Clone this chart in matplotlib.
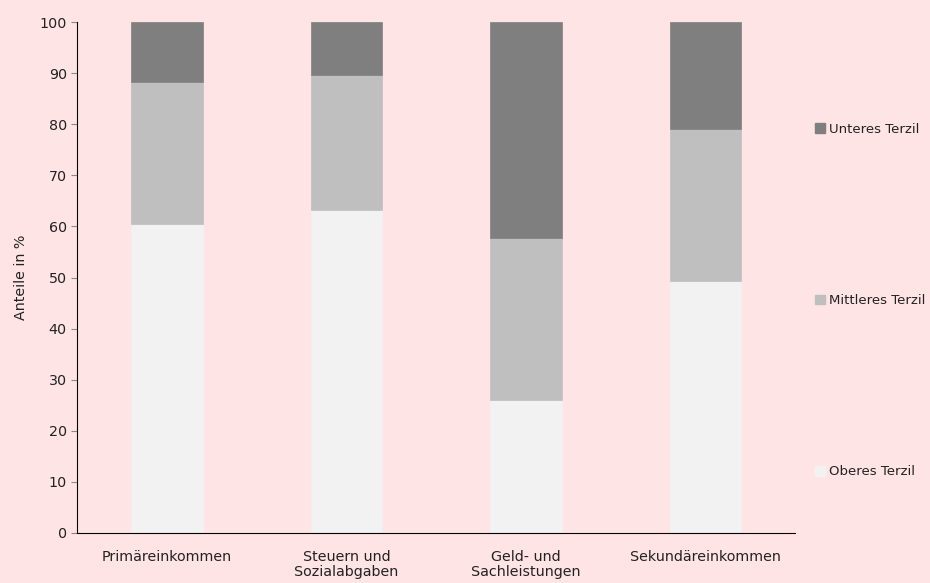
import matplotlib
matplotlib.use("Agg")
import matplotlib.pyplot as plt
from matplotlib.patches import Patch

categories = ["Primäreinkommen", "Steuern und\nSozialabgaben", "Geld- und\nSachleistungen", "Sekundäreinkommen"]
oberes = [60.4, 63.3, 26.1, 49.4]
mittleres = [27.9, 26.3, 31.7, 29.7]
unteres = [11.7, 10.4, 42.2, 20.9]
series_names = ["Oberes Terzil", "Mittleres Terzil", "Unteres Terzil"]
colors = ["#F2F2F2", "#BFBFBF", "#7F7F7F"]
yticks = [0, 10, 20, 30, 40, 50, 60, 70, 80, 90, 100]

plt.rcParams['font.family'] = ['DejaVu Sans']
bg = "#FFE4E5"
fs = 10.3
fig = plt.figure(figsize=(9.3, 5.83), dpi=100, facecolor=bg)
ax = fig.add_axes([0.083, 0.086, 0.772, 0.876])
ax.set_facecolor(bg)

x = list(range(len(categories)))
bottom = [0] * len(x)
for vals, c in zip([oberes, mittleres, unteres], colors):
    ax.bar(x, vals, width=0.4, bottom=bottom, color=c, edgecolor=c, linewidth=0.5)
    bottom = [b + v for b, v in zip(bottom, vals)]

ax.set_xlim(-0.5, 3.5)
ax.set_ylim(0, 100)
ax.set_yticks(yticks)
ax.set_xticks(x)
ax.set_xticklabels(categories, fontsize=fs, color="#222222", linespacing=1.15)
ax.tick_params(axis='x', length=0, pad=12)
ax.tick_params(axis='y', length=4, color="#888888", labelsize=fs, labelcolor="#222222")
for s in ["top", "right"]:
    ax.spines[s].set_visible(False)
ax.spines["left"].set_color("black")
ax.spines["bottom"].set_color("black")
ax.set_ylabel("Anteile in %", fontsize=fs, color="#222222", labelpad=8)

handles = [Patch(facecolor=c, edgecolor=c, label=n) for n, c in zip(series_names, colors)]
handles = handles[::-1]
leg = ax.legend(handles=handles, loc="center left", bbox_to_anchor=(1.02, 0.455),
                frameon=False, fontsize=9.5, handlelength=0.75, handleheight=0.75,
                handletextpad=0.3, labelspacing=12.0, borderaxespad=0)
for t in leg.get_texts():
    t.set_color("#222222")

fig.savefig("out.png", dpi=100, facecolor=bg)
